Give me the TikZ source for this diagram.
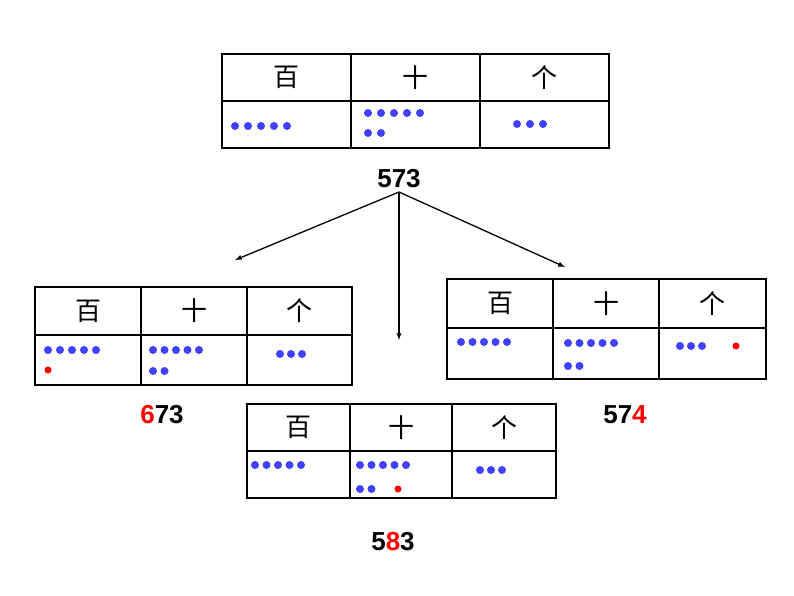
\documentclass[tikz,border=0pt]{standalone}
\usepackage{fontspec}
\setmainfont{Liberation Sans}
\newfontfamily\cjk{Noto Sans CJK SC}
\begin{document}
\begin{tikzpicture}[x=1pt,y=-1pt,
  cell/.style={draw=black,line width=1.5pt},
  hd/.style={font=\cjk\fontsize{26}{26}\selectfont},
  num/.style={font=\bfseries\fontsize{26}{26}\selectfont},
  bd/.style={fill=blue!75!white},
  rd/.style={fill=red},
  arr/.style={-latex,line width=1.3pt}]
\useasboundingbox (0,0) rectangle (794,596);
\newcommand{\tbl}[7]{% x0 x1 x2 x3 ytop ymid ybot
  \draw[cell] (#1,#5) rectangle (#4,#7);
  \draw[cell] (#1,#6) -- (#4,#6);
  \draw[cell] (#2,#5) -- (#2,#7);
  \draw[cell] (#3,#5) -- (#3,#7);
  \node[hd] at ({(#1+#2)/2},{(#5+#6)/2}) {百};
  \node[hd] at ({(#2+#3)/2},{(#5+#6)/2}) {十};
  \node[hd] at ({(#3+#4)/2},{(#5+#6)/2}) {个};}
\newcommand{\dotrow}[5]{% x y n spacing style
  \foreach \i in {1,...,#3} \fill[#5] ({#1+(\i-1)*#4},#2) circle (4);}
% top
\tbl{222}{351}{480}{609}{54}{101}{148}
\dotrow{235}{126}{5}{13}{bd}
\dotrow{368}{113}{5}{13}{bd}
\dotrow{368}{133}{2}{13}{bd}
\dotrow{517}{124}{3}{13}{bd}
\node[num] (n573) at (399,179) {573};
% left
\tbl{35}{141}{247}{352}{287}{335}{385}
\dotrow{48}{350}{5}{12}{bd}
\fill[rd] (48,370) circle (3.5);
\dotrow{153}{350}{5}{11.5}{bd}
\dotrow{153}{371}{2}{11.5}{bd}
\dotrow{280}{354}{3}{11}{bd}
\node[num] (n673) at (162,415) {\textcolor{red}{6}73};
% right
\tbl{447}{553}{659}{766}{279}{328}{379}
\dotrow{461}{342}{5}{11.5}{bd}
\dotrow{568}{343}{5}{11.5}{bd}
\dotrow{568}{366}{2}{11.5}{bd}
\dotrow{680}{346}{3}{11}{bd}
\fill[rd] (736,346) circle (3.5);
\node[num] (n574) at (625,415) {57\textcolor{red}{4}};
% middle
\tbl{247}{350}{452}{556}{404}{451}{498}
\dotrow{255}{465}{5}{11.5}{bd}
\dotrow{360}{465}{5}{11.5}{bd}
\dotrow{360}{489}{2}{11.5}{bd}
\fill[rd] (398,489) circle (3.5);
\dotrow{480}{470}{3}{11}{bd}
\node[num] (n583) at (393,542) {5\textcolor{red}{8}3};
% arrows
\coordinate (o) at (399,192);
\coordinate (aL) at (235,260);
\coordinate (aM) at (399,340);
\coordinate (aR) at (565,267);
\draw[arr] (o) -- (aL);
\draw[arr] (o) -- (aM);
\draw[arr] (o) -- (aR);
\end{tikzpicture}
\end{document}
